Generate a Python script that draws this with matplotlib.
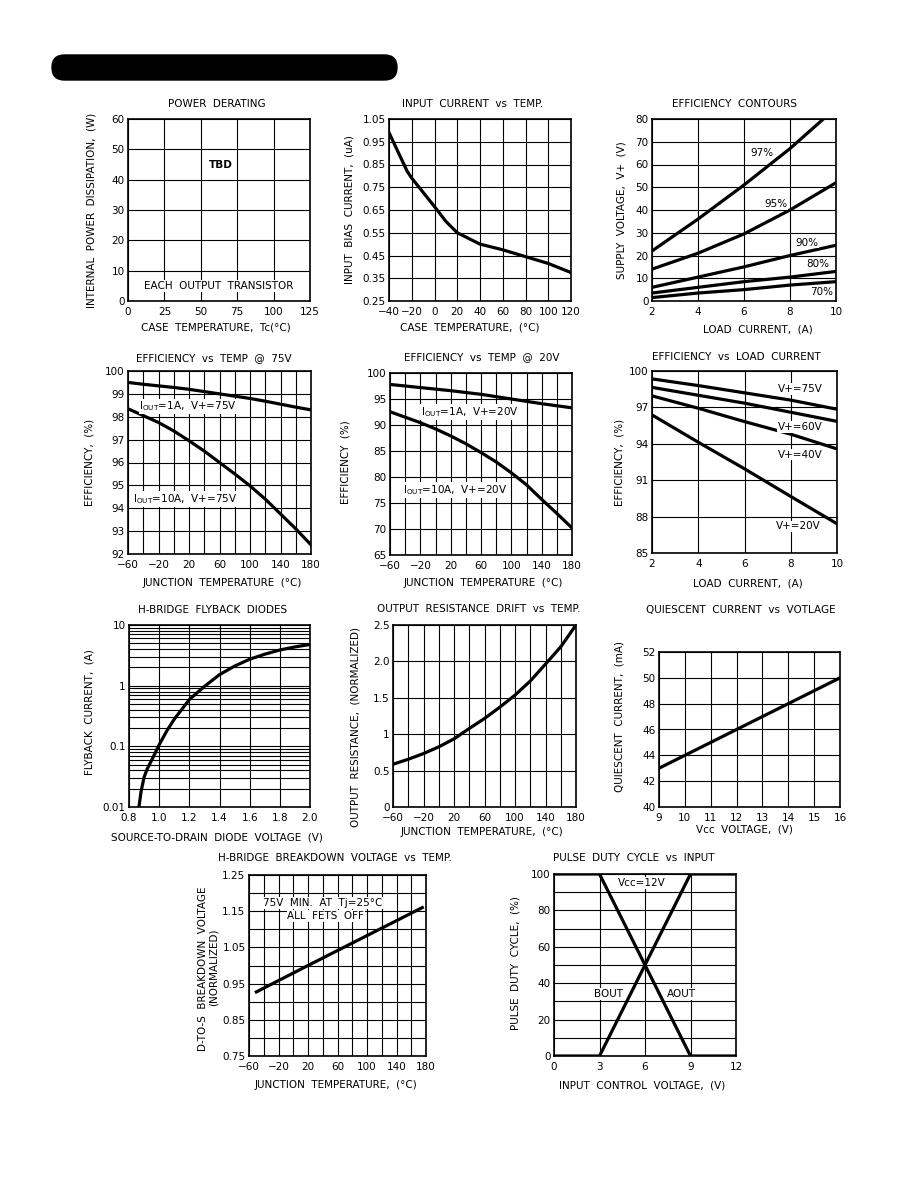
import matplotlib
matplotlib.use('Agg')
import matplotlib.pyplot as plt
from matplotlib.patches import FancyBboxPatch
from matplotlib.ticker import MultipleLocator, LogLocator, NullFormatter, FormatStrFormatter

plt.rcParams['font.family'] = ['DejaVu Sans']
plt.rcParams['axes.unicode_minus'] = True

# ---- data ----
# input current vs temp
ib_temp = [-40, -24, -20, 0, 10, 20, 40, 60, 80, 100, 120]
ib_curr = [0.99, 0.82, 0.79, 0.665, 0.60, 0.55, 0.50, 0.475, 0.445, 0.415, 0.375]

# efficiency contours
ec_load = [2, 4, 6, 8, 10]
ec_load97 = [2, 4, 6, 8, 9.45]
ec_97 = [22, 36, 51, 67, 80]
ec_95 = [14, 21, 29.5, 40, 52]
ec_90 = [6, 10.5, 15, 20, 24.5]
ec_80 = [3.5, 6, 8.5, 10.5, 13]
ec_70 = [1.5, 3.5, 5, 7, 8.5]

# efficiency vs temp @75V
tj = [-60, -40, -20, 0, 20, 40, 60, 80, 100, 120, 140, 160, 180]
eff75_1a = [99.5, 99.42, 99.35, 99.28, 99.2, 99.1, 99.0, 98.9, 98.8, 98.68, 98.55, 98.42, 98.3]
eff75_10a = [98.35, 98.05, 97.75, 97.38, 96.95, 96.5, 96.0, 95.5, 94.98, 94.4, 93.75, 93.1, 92.4]

# efficiency vs temp @20V
eff20_1a = [97.8, 97.5, 97.2, 96.9, 96.6, 96.25, 95.9, 95.45, 95.0, 94.55, 94.1, 93.7, 93.3]
eff20_10a = [92.55, 91.5, 90.45, 89.25, 87.9, 86.4, 84.7, 82.9, 80.8, 78.5, 75.7, 73.0, 70.2]

# efficiency vs load current
load = [2, 4, 6, 8, 10]
effl_75 = [99.35, 98.8, 98.2, 97.6, 96.85]
effl_60 = [98.65, 98.0, 97.35, 96.6, 95.85]
effl_40 = [97.95, 96.93, 95.83, 94.79, 93.58]
effl_20 = [96.38, 94.13, 91.94, 89.66, 87.41]

# flyback diodes
vsd = [0.866, 0.88, 0.9, 0.92, 0.95, 1.0, 1.05, 1.1, 1.2, 1.3, 1.4, 1.5, 1.6, 1.7, 1.8, 1.9, 2.0]
i_fly = [0.01, 0.018, 0.031, 0.042, 0.059, 0.106, 0.179, 0.28, 0.59, 0.97, 1.52, 2.1, 2.73,
         3.3, 3.87, 4.35, 4.77]

# output resistance drift
rt = [-60, -40, -20, 0, 20, 40, 60, 80, 100, 120, 140, 160, 180]
rout = [0.587, 0.656, 0.734, 0.826, 0.936, 1.078, 1.216, 1.37, 1.537, 1.73, 1.963, 2.20, 2.5]

# quiescent current vs voltage
vcc = [9, 16]
iq = [43, 50]

# breakdown voltage vs temp
bd_temp = [-50, 20, 175]
bd_volt = [0.927, 1.0, 1.16]

# pulse duty cycle vs input
vin = [0, 3, 9, 12]
aout = [100, 100, 0, 0]
bout = [0, 0, 100, 100]

tj_ticks = [-60, -20, 20, 60, 100, 140, 180]

W, H = 918, 1188
LW = 2.3
FS = 7.5

fig = plt.figure(figsize=(W / 100, H / 100), dpi=100)
bg = fig.add_axes([0, 0, 1, 1])
bg.set_xlim(0, W)
bg.set_ylim(H, 0)
bg.axis('off')

# black header bar
bg.add_patch(FancyBboxPatch((52, 55), 345, 25, boxstyle='round,pad=0,rounding_size=12.5',
                            facecolor='black', edgecolor='black'))


def panel(l, t, r, b, xlim, ylim, xmaj, ymaj, xmin=None, ymin=None):
    ax = fig.add_axes([l / W, 1 - b / H, (r - l) / W, (b - t) / H])
    ax.set_xlim(*xlim)
    ax.set_ylim(*ylim)
    if isinstance(xmaj, list):
        ax.set_xticks(xmaj)
    else:
        ax.xaxis.set_major_locator(MultipleLocator(xmaj))
    if isinstance(ymaj, list):
        ax.set_yticks(ymaj)
    else:
        ax.yaxis.set_major_locator(MultipleLocator(ymaj))
    if xmin:
        ax.xaxis.set_minor_locator(MultipleLocator(xmin))
    if ymin:
        ax.yaxis.set_minor_locator(MultipleLocator(ymin))
    ax.grid(True, which='both', color='black', lw=0.8)
    ax.tick_params(which='both', length=0, labelsize=FS)
    ax.tick_params(axis='x', pad=4.2)
    ax.tick_params(axis='y', pad=2.5)
    for s in ax.spines.values():
        s.set_linewidth(1.2)
    return ax


def label(x, y, s, rot=0, **kw):
    bg.text(x, y, s, ha='center', va='center', rotation=rot, fontsize=FS, **kw)


def tag(ax, x, y, s, ha='center', **kw):
    ax.text(x, y, s, ha=ha, va='center', fontsize=FS, zorder=5,
            bbox=dict(facecolor='white', edgecolor='none', pad=0.5), **kw)


# 1 power derating
ax = panel(128, 119, 310, 301, (0, 125), (0, 60), 25, 10)
tag(ax, 64, 45, 'TBD', fontweight='bold')
tag(ax, 62, 5, 'EACH  OUTPUT  TRANSISTOR')
label(217, 104, 'POWER  DERATING')
label(216, 328, 'CASE  TEMPERATURE,  Tc(°C)')
label(92, 210, 'INTERNAL  POWER  DISSIPATION,  (W)', 90)

# 2 input current vs temp
ax = panel(389, 119, 571, 301, (-40, 120), (0.25, 1.05), 20,
           [0.25, 0.35, 0.45, 0.55, 0.65, 0.75, 0.85, 0.95, 1.05])
ax.plot(ib_temp, ib_curr, color='black', lw=LW)
label(473, 104, 'INPUT  CURRENT  vs  TEMP.')
label(470, 328, 'CASE  TEMPERATURE,  (°C)')
label(350, 210, 'INPUT  BIAS  CURRENT,  (uA)', 90)

# 3 efficiency contours
ax = panel(652, 119, 836, 301, (2, 10), (0, 80), 2, 10)
for xs, ys in [(ec_load97, ec_97), (ec_load, ec_95), (ec_load, ec_90),
               (ec_load, ec_80), (ec_load, ec_70)]:
    ax.plot(xs, ys, color='black', lw=LW)
tag(ax, 6.77, 64.9, '97%')
tag(ax, 7.39, 42.5, '95%')
tag(ax, 8.73, 25.6, '90%')
tag(ax, 9.19, 16.1, '80%')
tag(ax, 9.38, 3.9, '70%')
label(735, 104, 'EFFICIENCY  CONTOURS')
label(758, 330, 'LOAD  CURRENT,  (A)')
label(622, 210, 'SUPPLY  VOLTAGE,  V+  (V)', 90)

# 4 efficiency vs temp @ 75V
ax = panel(128, 371, 311, 554, (-60, 180), (92, 100), tj_ticks, 1, 20)
ax.plot(tj, eff75_1a, color='black', lw=LW)
ax.plot(tj, eff75_10a, color='black', lw=LW)
tag(ax, -45, 98.45, r'I$_{\rm OUT}$=1A,  V+=75V', ha='left')
tag(ax, -54, 94.4, r'I$_{\rm OUT}$=10A,  V+=75V', ha='left')
label(214, 358, 'EFFICIENCY  vs  TEMP  @  75V')
label(222, 583, 'JUNCTION  TEMPERATURE  (°C)')
label(89, 462, 'EFFICIENCY,  (%)', 90)

# 5 efficiency vs temp @ 20V
ax = panel(390, 373, 572, 555, (-60, 180), (65, 100), tj_ticks, 5, 20)
ax.plot(tj, eff20_1a, color='black', lw=LW)
ax.plot(tj, eff20_10a, color='black', lw=LW)
tag(ax, -19, 92.5, r'I$_{\rm OUT}$=1A,  V+=20V', ha='left')
tag(ax, -43, 77.5, r'I$_{\rm OUT}$=10A,  V+=20V', ha='left')
label(482, 357, 'EFFICIENCY  vs  TEMP  @  20V')
label(483, 583, 'JUNCTION  TEMPERATURE  (°C)')
label(345, 462, 'EFFICIENCY  (%)', 90)

# 6 efficiency vs load current
ax = panel(652, 371, 837, 553, (2, 10), (85, 100), 2, [85, 88, 91, 94, 97, 100])
for ys in [effl_75, effl_60, effl_40, effl_20]:
    ax.plot(load, ys, color='black', lw=LW)
tag(ax, 8.4, 98.5, 'V+=75V')
tag(ax, 8.4, 95.4, 'V+=60V')
tag(ax, 8.4, 93.1, 'V+=40V')
tag(ax, 8.33, 87.2, 'V+=20V')
label(736, 357, 'EFFICIENCY  vs  LOAD  CURRENT')
label(748, 583, 'LOAD  CURRENT,  (A)')
label(619, 462, 'EFFICIENCY,  (%)', 90)

# 7 flyback diodes
ax = panel(129, 625, 310, 807, (0.8, 2.0), (0.01, 10), 0.2, 1)
ax.set_yscale('log')
ax.set_ylim(0.01, 10)
ax.set_yticks([0.01, 0.1, 1, 10])
ax.set_yticklabels(['0.01', '0.1', '1', '10'])
ax.yaxis.set_minor_locator(LogLocator(base=10, subs=range(2, 10)))
ax.yaxis.set_minor_formatter(NullFormatter())
ax.xaxis.set_major_locator(MultipleLocator(0.2))
ax.xaxis.set_major_formatter(FormatStrFormatter('%.1f'))
ax.grid(True, which='both', color='black', lw=0.8)
ax.tick_params(which='both', length=0, labelsize=FS)
ax.plot(vsd, i_fly, color='black', lw=LW)
label(213, 610, 'H-BRIDGE  FLYBACK  DIODES')
label(217, 838, 'SOURCE-TO-DRAIN  DIODE  VOLTAGE  (V)')
label(89, 712, 'FLYBACK  CURRENT,  (A)', 90)

# 8 output resistance drift
ax = panel(393, 625, 576, 807, (-60, 180), (0, 2.5), tj_ticks, [0, 0.5, 1, 1.5, 2.0, 2.5], 20)
ax.set_yticklabels(['0', '0.5', '1', '1.5', '2.0', '2.5'])
ax.plot(rt, rout, color='black', lw=LW)
label(479, 609, 'OUTPUT  RESISTANCE  DRIFT  vs  TEMP.')
label(482, 832, 'JUNCTION  TEMPERATURE,  (°C)')
label(355, 727, 'OUTPUT  RESISTANCE,  (NORMALIZED)', 90)

# 9 quiescent current
ax = panel(659, 652, 840, 807, (9, 16), (40, 52), 1, 2)
ax.plot(vcc, iq, color='black', lw=LW)
label(741, 610, 'QUIESCENT  CURRENT  vs  VOTLAGE')
label(744, 830, 'Vcc  VOLTAGE,  (V)')
label(619, 716, 'QUIESCENT  CURRENT,  (mA)', 90)

# 10 breakdown voltage
ax = panel(249, 875, 426, 1056, (-60, 180), (0.75, 1.25), tj_ticks,
           [0.75, 0.85, 0.95, 1.05, 1.15, 1.25], 20, 0.05)
ax.plot(bd_temp, bd_volt, color='black', lw=LW)
tag(ax, 40, 1.173, '75V  MIN.  AT  Tj=25°C')
tag(ax, 44, 1.137, 'ALL  FETS  OFF')
label(335, 858, 'H-BRIDGE  BREAKDOWN  VOLTAGE  vs  TEMP.')
label(336, 1085, 'JUNCTION  TEMPERATURE,  (°C)')
label(203, 969, 'D-TO-S  BREAKDOWN  VOLTAGE', 90)
label(214, 967, '(NORMALIZED)', 90)

# 11 pulse duty cycle
ax = panel(554, 874, 736, 1056, (0, 12), (0, 100), 3, 20, None, 10)
ax.plot(vin, aout, color='black', lw=LW)
ax.plot(vin, bout, color='black', lw=LW)
tag(ax, 5.8, 95, 'Vcc=12V')
tag(ax, 3.6, 34, 'BOUT')
tag(ax, 8.4, 34, 'AOUT')
label(634, 858, 'PULSE  DUTY  CYCLE  vs  INPUT')
label(642, 1085, 'INPUT  CONTROL  VOLTAGE,  (V)')
label(515, 963, 'PULSE  DUTY  CYCLE,  (%)', 90)

fig.savefig('out.png', dpi=100)
